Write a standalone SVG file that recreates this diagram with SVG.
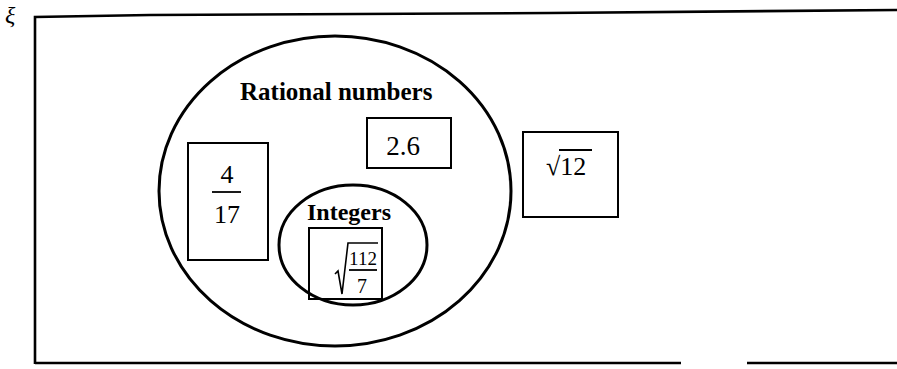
<svg xmlns="http://www.w3.org/2000/svg" width="897" height="369" viewBox="0 0 897 369">
<style>
text{font-family:"Liberation Serif","Times New Roman",serif;fill:#000}
.frame{fill:none;stroke:#000;stroke-width:2.6}
.set{fill:none;stroke:#000;stroke-width:3}
.box{fill:none;stroke:#000;stroke-width:2}
.num{font-size:26px}
.lbl{font-size:24px;font-weight:bold}
.rule{stroke:#000;stroke-width:1.8}
</style>
<rect width="897" height="369" fill="#fff"/>
<g id="universe">
<text x="5" y="23" style="font-size:24px;font-style:italic">ξ</text>
<path class="frame" d="M35,364 L35,17 L150,15 L550,13 L897,10"/>
<path class="frame" d="M35,363 L681,363 M747,363 L897,363"/>
</g>
<g id="rational">
<ellipse class="set" cx="335" cy="191" rx="176" ry="155"/>
<text class="lbl" x="240" y="100" style="font-size:25px">Rational numbers</text>
</g>
<g id="integers">
<ellipse class="set" cx="353" cy="245" rx="74" ry="60"/>
<text class="lbl" x="307" y="220">Integers</text>
</g>
<g id="n-4-17">
<rect class="box" x="188" y="143" width="80" height="117"/>
<text class="num" x="227" y="183" text-anchor="middle">4</text>
<line class="rule" x1="212" y1="192" x2="241" y2="192"/>
<text class="num" x="227" y="223" text-anchor="middle">17</text>
</g>
<g id="n-2-6">
<rect class="box" x="367" y="118" width="84" height="50"/>
<text class="num" x="403" y="155" text-anchor="middle" style="font-size:27px">2.6</text>
</g>
<g id="n-sqrt12">
<rect class="box" x="523" y="132" width="95" height="85"/>
<text class="num" x="546" y="175">√12</text>
<line class="rule" x1="559" y1="150" x2="592" y2="150"/>
</g>
<g id="n-sqrt112-7">
<rect class="box" x="309" y="228" width="73" height="71"/>
<polyline points="335,274 338,271 342,294 348,243 378,243" fill="none" stroke="#000" stroke-width="1.6"/>
<text x="363" y="265" text-anchor="middle" style="font-size:19px">112</text>
<line class="rule" x1="349" y1="270" x2="377" y2="270"/>
<text x="362" y="293" text-anchor="middle" style="font-size:20px">7</text>
</g>
<g id="connectors"></g>
</svg>
